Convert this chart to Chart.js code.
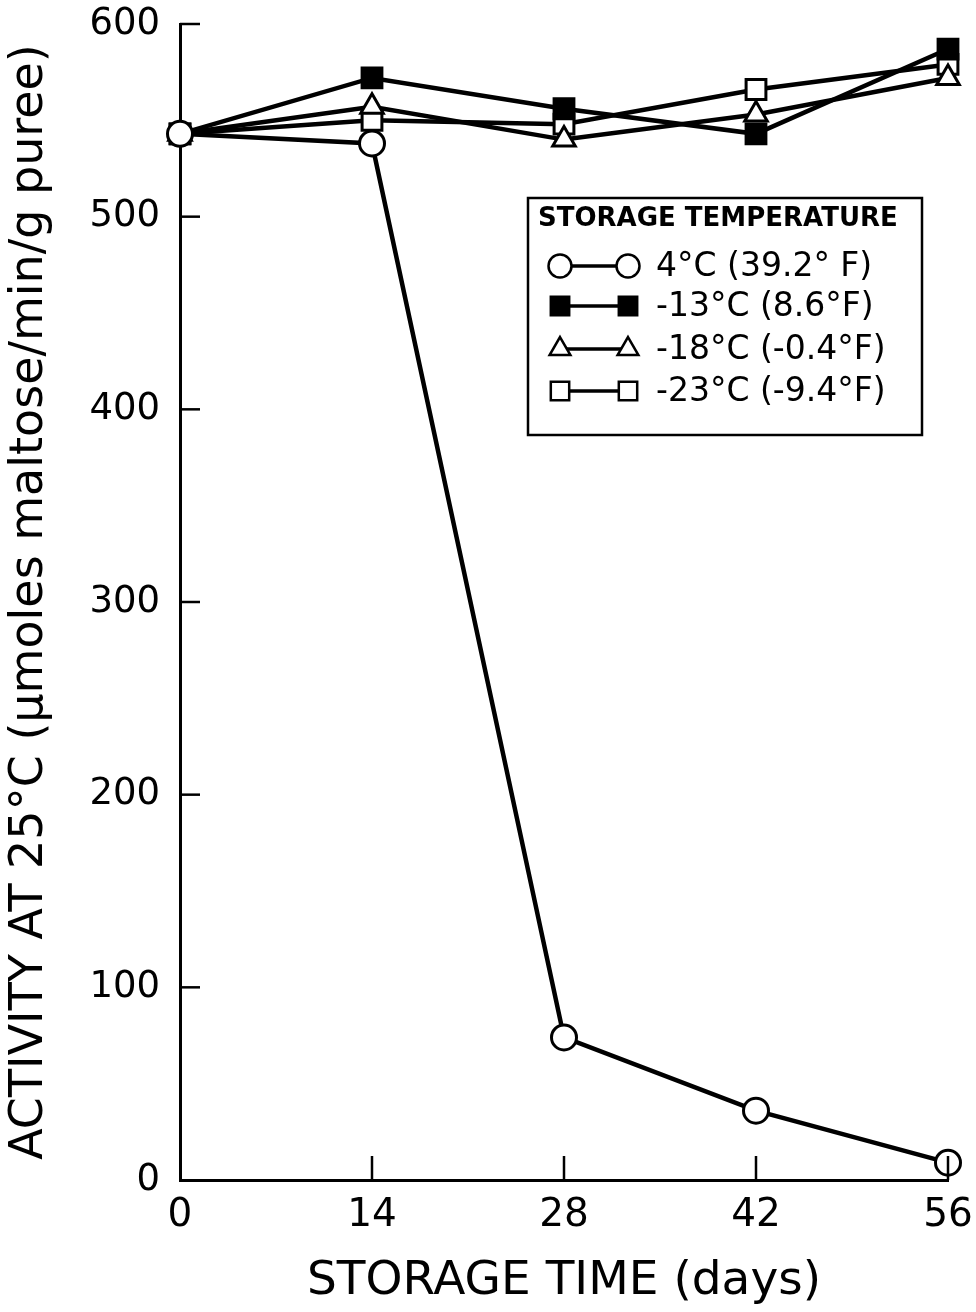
<!DOCTYPE html>
<html>
<head>
<meta charset="utf-8">
<script src="https://cdn.jsdelivr.net/npm/chart.js@4.4.1/dist/chart.umd.min.js"></script>
<style>
  html, body { margin: 0; padding: 0; background: #fff; }
  #wrap { position: relative; width: 976px; height: 1312px; }
</style>
</head>
<body>
<div id="wrap"><canvas id="chart"></canvas></div>
<script>
// Amylase activity of puree vs storage time, four storage temperatures
const DAYS = [0, 14, 28, 42, 56];
const X_TICKS = [0, 14, 28, 42, 56];
const Y_TICKS = [0, 100, 200, 300, 400, 500, 600];

const LABELS = ['4°C (39.2° F)', '-13°C (8.6°F)', '-18°C (-0.4°F)', '-23°C (-9.4°F)'];
const T4   = [543, 538, 74, 36, 9];
const T13  = [543, 572, 556, 543, 587];
const T18  = [543, 557, 540, 553, 572];
const T23  = [543, 550, 548, 566, 579];

const FONT = '"DejaVu Sans", sans-serif';

function pts(vals) { return DAYS.map((d, i) => ({ x: d, y: vals[i] })); }

function series(label, vals, style, filled, radius) {
  return {
    label: label,
    data: pts(vals),
    borderColor: '#000',
    borderWidth: 4.5,
    pointStyle: style,
    pointRadius: radius,
    pointBorderWidth: 3,
    pointBorderColor: '#000',
    pointBackgroundColor: filled ? '#000' : '#fff',
    tension: 0,
    clip: false
  };
}

// inward tick marks, as on the original
const innerTicks = {
  id: 'innerTicks',
  afterDraw(chart) {
    const { ctx, chartArea, scales } = chart;
    ctx.save();
    ctx.strokeStyle = '#000';
    ctx.lineWidth = 2.5;
    Y_TICKS.forEach(v => {
      if (v === 0) return;
      const y = scales.y.getPixelForValue(v);
      ctx.beginPath();
      ctx.moveTo(chartArea.left, y);
      ctx.lineTo(chartArea.left + 20, y);
      ctx.stroke();
    });
    X_TICKS.forEach(v => {
      if (v === 0) return;
      const x = scales.x.getPixelForValue(v);
      ctx.beginPath();
      ctx.moveTo(x, chartArea.bottom);
      ctx.lineTo(x, chartArea.bottom - 24);
      ctx.stroke();
    });
    ctx.restore();
  }
};

// boxed legend inside the plot: marker - line - marker, then label
const boxLegend = {
  id: 'boxLegend',
  afterDraw(chart) {
    const { ctx } = chart;
    const left = 528, top = 198, w = 394, h = 237;
    ctx.save();
    ctx.fillStyle = '#fff';
    ctx.fillRect(left, top, w, h);
    ctx.strokeStyle = '#000';
    ctx.lineWidth = 2.5;
    ctx.strokeRect(left, top, w, h);

    ctx.fillStyle = '#000';
    ctx.font = 'bold 26px ' + FONT;
    ctx.textAlign = 'left';
    ctx.textBaseline = 'middle';
    ctx.fillText('STORAGE TEMPERATURE', left + 10, top + 21);

    const rows = [266, 306, 349, 391];
    chart.data.datasets.forEach((ds, i) => {
      const y = rows[i];
      const x1 = left + 32, x2 = left + 100;
      ctx.strokeStyle = '#000';
      ctx.lineWidth = 3.5;
      ctx.beginPath();
      ctx.moveTo(x1, y);
      ctx.lineTo(x2, y);
      ctx.stroke();
      [x1, x2].forEach(x => {
        ctx.fillStyle = ds.pointBackgroundColor;
        ctx.strokeStyle = '#000';
        ctx.lineWidth = 2.5;
        Chart.helpers.drawPoint(ctx, {
          pointStyle: ds.pointStyle,
          radius: ds.pointRadius - 1,
          rotation: 0,
          borderWidth: 2.5
        }, x, y);
      });
      ctx.fillStyle = '#000';
      ctx.font = '33px ' + FONT;
      ctx.fillText(ds.label, left + 128, y + 1);
    });
    ctx.restore();
  }
};

new Chart(document.getElementById('chart'), {
  type: 'line',
  data: {
    datasets: [
      series(LABELS[0], T4, 'circle', false, 12.5),
      series(LABELS[1], T13, 'rect', true, 14),
      series(LABELS[2], T18, 'triangle', false, 13),
      series(LABELS[3], T23, 'rect', false, 14)
    ]
  },
  options: {
    responsive: true,
    maintainAspectRatio: false,
    animation: false,
    layout: { padding: { top: 24, right: 28, left: 0, bottom: 0 } },
    plugins: { legend: { display: false }, tooltip: { enabled: false } },
    scales: {
      x: {
        type: 'linear',
        min: 0,
        max: 56,
        afterBuildTicks: s => { s.ticks = X_TICKS.map(v => ({ value: v })); },
        afterFit: s => { s.height = 132; s.paddingLeft = 0; s.paddingRight = 0; },
        grid: { display: false, drawTicks: false },
        border: { display: true, color: '#000', width: 3 },
        ticks: { color: '#000', padding: 12, font: { family: FONT, size: 39 } },
        title: {
          display: true,
          text: 'STORAGE TIME (days)',
          color: '#000',
          padding: { top: 0, bottom: 2 },
          font: { family: FONT, size: 47 }
        }
      },
      y: {
        min: 0,
        max: 600,
        afterBuildTicks: s => { s.ticks = Y_TICKS.map(v => ({ value: v })); },
        afterFit: s => { s.width = 180; s.paddingTop = 0; s.paddingBottom = 0; },
        grid: { display: false, drawTicks: false },
        border: { display: true, color: '#000', width: 3 },
        ticks: { color: '#000', padding: 20, font: { family: FONT, size: 37 } },
        title: {
          display: true,
          text: 'ACTIVITY AT 25°C (μmoles maltose/min/g puree)',
          color: '#000',
          padding: { top: 2, bottom: 0 },
          font: { family: FONT, size: 46 }
        }
      }
    }
  },
  plugins: [innerTicks, boxLegend]
});
</script>
</body>
</html>
